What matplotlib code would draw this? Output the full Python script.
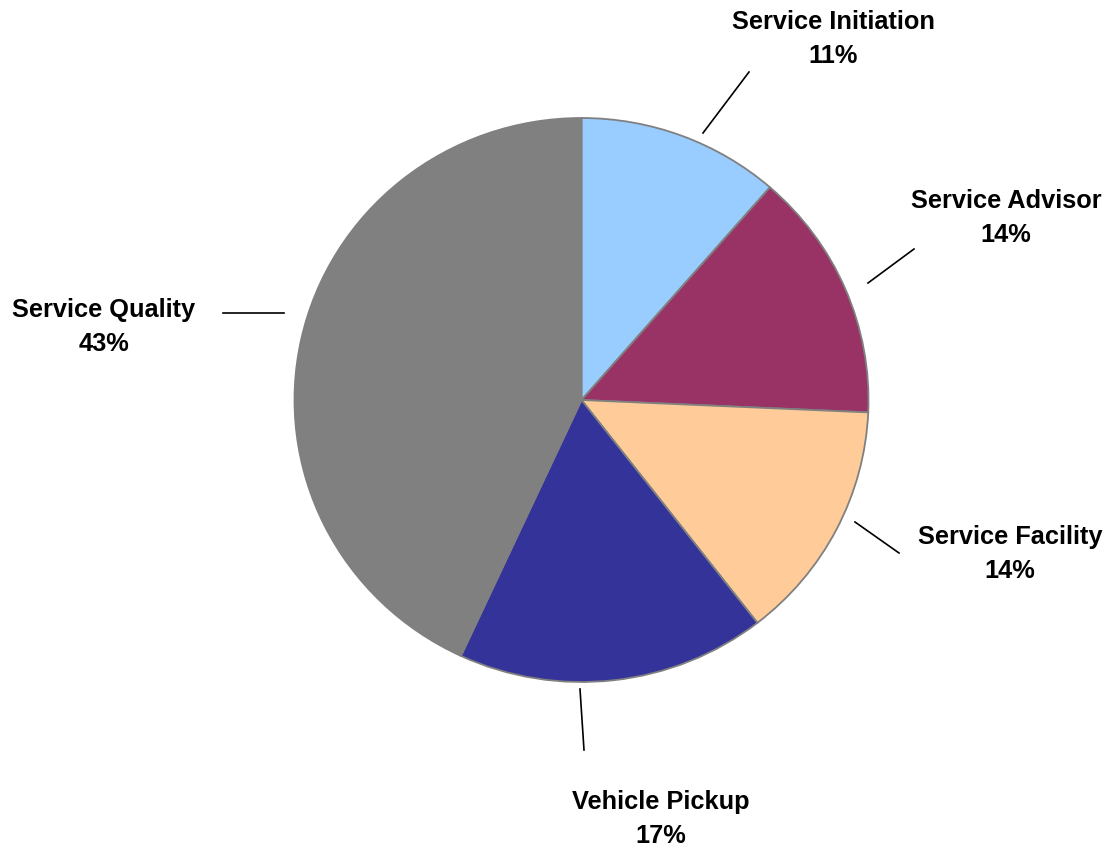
import numpy as np
import matplotlib.pyplot as plt

plt.rcParams['font.family'] = ['Liberation Sans', 'DejaVu Sans']

# slice data, clockwise from 12 o'clock
names = ['Service Initiation', 'Service Advisor', 'Service Facility',
         'Vehicle Pickup', 'Service Quality']
shares = [11.4, 14.3, 13.8, 17.4, 43.1]
colors = ['#99CCFF', '#993366', '#FFCC99', '#333399', '#808080']

# label layout in pixels: text centre, leader line start / end
text_px = [(833, 39), (1006, 218), (1010, 554), (661, 819), (104, 327)]
line_px = [((703, 133), (749, 72)), ((868, 283), (914, 249)),
           ((855, 522), (899, 553)), ((580, 689), (584, 750)),
           ((284, 313), (223, 313))]

W, H = 1107, 848
cx, cy = 581.5, 400
rx, ry = 287, 282   # the original pie is a touch wider than tall


def px(p):
    # pixel -> data coords (pie radius = 1)
    return ((p[0] - cx) / rx, (cy - p[1]) / ry)


fig = plt.figure(figsize=(W / 100, H / 100), dpi=100)
ax = fig.add_axes([0, 0, 1, 1])
ax.pie(shares, colors=colors, startangle=90, counterclock=False,
       radius=1, center=(0, 0),
       wedgeprops=dict(edgecolor='#808080', linewidth=1.3))
ax.set_xlim(-cx / rx, (W - cx) / rx)
ax.set_ylim(-(H - cy) / ry, cy / ry)
ax.set_aspect('auto')
ax.axis('off')

for name, v, t, (a, b) in zip(names, shares, text_px, line_px):
    x0, y0 = px(a)
    x1, y1 = px(b)
    ax.plot([x0, x1], [y0, y1], color='black', lw=1.2)
    tx, ty = px(t)
    ax.text(tx, ty, f'{name}\n{v:.0f}%', ha='center', va='center',
            fontsize=18.3, fontweight='bold', linespacing=1.55)

fig.savefig('out.png', dpi=100)
